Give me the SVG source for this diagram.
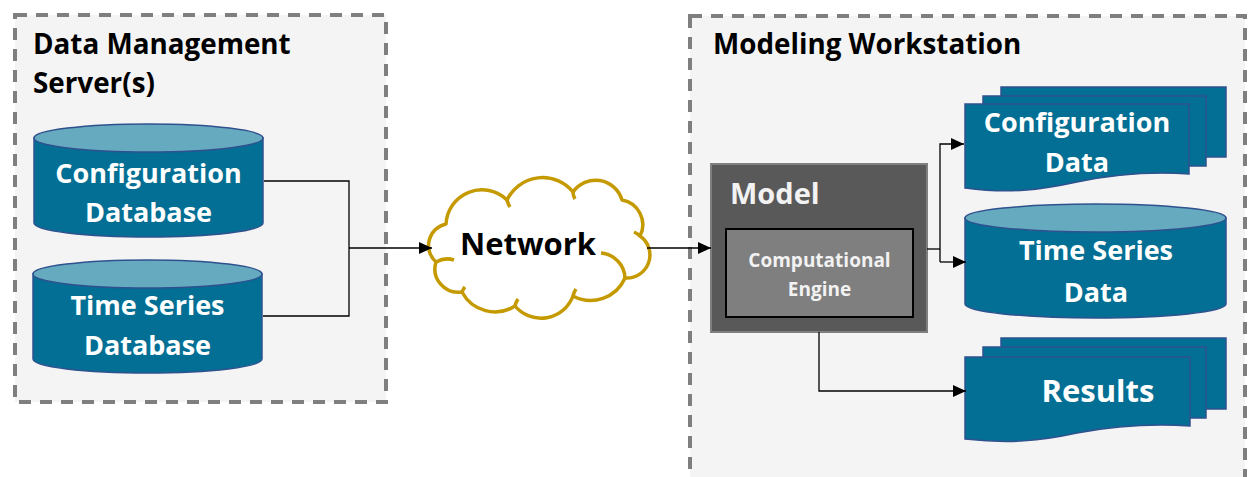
<svg xmlns="http://www.w3.org/2000/svg" width="1249" height="477" viewBox="0 0 1249 477">
<defs>
<style>
.container{fill:#f4f4f4;stroke:#7f7f7f;stroke-width:4;stroke-dasharray:12 9}
.title{font-family:"Open Sans",Lato,sans-serif;font-weight:bold;font-size:27.8px;fill:#000}
.body{fill:#036f94;stroke:#2f528f;stroke-width:1.5}
.top{fill:#66aac0;stroke:#2f528f;stroke-width:1.5}
.wt{font-family:"Open Sans",Lato,sans-serif;font-weight:bold;font-size:27px;fill:#fff;text-anchor:middle}
.conn{fill:none;stroke:#000;stroke-width:1.3}
.cloud{fill:#fff;stroke:#c49a00;stroke-width:3.5;stroke-linejoin:round}
.cloudin{fill:none;stroke:#c49a00;stroke-width:3.5;stroke-linecap:butt}
</style>
<marker id="arr" viewBox="0 0 13 12" refX="13" refY="6" markerWidth="13" markerHeight="12" markerUnits="userSpaceOnUse" orient="auto">
<path d="M0,0 L13,6 L0,12 Z" fill="#000"/>
</marker>
</defs>
<rect width="1249" height="477" fill="#fff"/>

<g id="data-management-servers">
<rect class="container" x="15" y="15" width="371" height="387"/>
<text class="title" x="33" y="54">Data Management</text>
<text class="title" x="33" y="93">Server(s)</text>
</g>

<g id="modeling-workstation">
<rect class="container" x="690" y="16" width="555" height="480"/>
<text class="title" x="713" y="54">Modeling Workstation</text>
</g>

<g id="config-database">
<path class="body" d="M34,138 V223 A114.5,14 0 0 0 263,223 V138 Z"/>
<ellipse class="top" cx="148.5" cy="138" rx="114.5" ry="14"/>
<text class="wt" x="148.5" y="183">Configuration</text>
<text class="wt" x="148.5" y="222">Database</text>
</g>

<g id="timeseries-database">
<path class="body" d="M33,274 V359 A114.5,14 0 0 0 262,359 V274 Z"/>
<ellipse class="top" cx="147.5" cy="274" rx="114.5" ry="14"/>
<text class="wt" x="147.5" y="315">Time Series</text>
<text class="wt" x="147.5" y="355">Database</text>
</g>

<g id="network">
<path class="cloud" d="M436,262 A22,22 0 0 1 446,224 A36,36 0 0 1 507,200 A39.4,39.4 0 0 1 573,192 A27.5,27.5 0 0 1 622,200 A25,25 0 0 1 640,236 A23.1,23.1 0 0 1 625,278 A37.5,37.5 0 0 1 573,296 A34,34 0 0 1 515,306 A37.3,37.3 0 0 1 462,292 A23.4,23.4 0 0 1 436,262 Z"/>
<path class="cloudin" d="M436,262 Q445,257 454,260 M507,200 Q508,204 510,207 M573,192 Q573,196 575,199 M640,236 Q638,234 634,232 M601,253 A26,26 0 0 1 625,278 M573,296 Q574,292 576,289 M515,306 Q516,302 518,299 M462,292 Q463,289 465,287"/>
<text x="528" y="255" style="font-family:'Open Sans',Lato,sans-serif;font-weight:bold;font-size:31px;fill:#000;text-anchor:middle">Network</text>
</g>

<g id="model">
<rect x="711" y="164" width="216" height="168" fill="#595959" stroke="#7f7f7f" stroke-width="2"/>
<text x="730" y="204" style="font-family:'Open Sans',Lato,sans-serif;font-weight:bold;font-size:29px;fill:#f2f2f2">Model</text>
</g>

<g id="computational-engine">
<rect x="726" y="229" width="187" height="88" fill="#7f7f7f" stroke="#000" stroke-width="2"/>
<text x="819.5" y="267" style="font-family:'Open Sans',Lato,sans-serif;font-weight:bold;font-size:19px;fill:#f2f2f2;text-anchor:middle">Computational</text>
<text x="819.5" y="296" style="font-family:'Open Sans',Lato,sans-serif;font-weight:bold;font-size:19px;fill:#f2f2f2;text-anchor:middle">Engine</text>
</g>

<g id="configuration-data">
<rect class="body" x="1001" y="87" width="225" height="70"/>
<rect class="body" x="983" y="96" width="223" height="70"/>
<path class="body" d="M965,104 H1189 V174 C1160,172 1120,173 1077,182 C1040,190 1010,194 965,188 Z"/>
<text class="wt" x="1077" y="132">Configuration</text>
<text class="wt" x="1077" y="172">Data</text>
</g>

<g id="timeseries-data">
<path class="body" d="M965,218 V304 A130.5,14 0 0 0 1226,304 V218 Z"/>
<ellipse class="top" cx="1095.5" cy="218" rx="130.5" ry="14"/>
<text class="wt" x="1096" y="260">Time Series</text>
<text class="wt" x="1096" y="302">Data</text>
</g>

<g id="results">
<rect class="body" x="1001" y="338" width="225" height="71"/>
<rect class="body" x="983" y="347" width="223" height="71"/>
<path class="body" d="M965,357 H1190 V426 C1160,424 1120,425 1077,433 C1040,441 1010,444 965,439 Z"/>
<text x="1098" y="402" style="font-family:'Open Sans',Lato,sans-serif;font-weight:bold;font-size:31px;fill:#fff;text-anchor:middle">Results</text>
</g>

<g id="connectors">
<path class="conn" d="M264,181 H349 V316 H263"/>
<path class="conn" d="M349,248 H432" marker-end="url(#arr)"/>
<path class="conn" d="M647,248 H711" marker-end="url(#arr)"/>
<path class="conn" d="M927,249 H940"/>
<path class="conn" d="M940,262 V144 H964" marker-end="url(#arr)"/>
<path class="conn" d="M940,262 H966" marker-end="url(#arr)"/>
<path class="conn" d="M819,332 V391 H966" marker-end="url(#arr)"/>
</g>
</svg>
